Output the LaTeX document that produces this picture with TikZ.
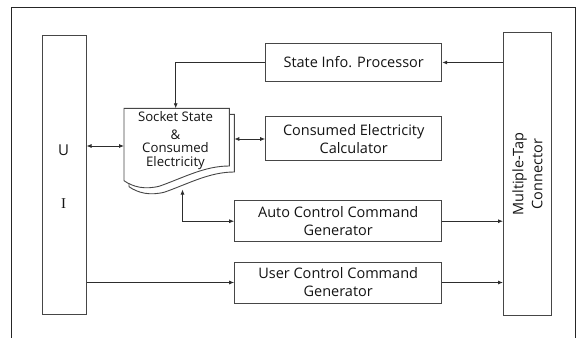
\documentclass[tikz,border=0pt]{standalone}
\usepackage{fontspec}
\setmainfont{Open Sans}
\newfontfamily\uiserif{Liberation Serif}
\definecolor{lnegray}{RGB}{45,45,45}
\definecolor{boxgray}{RGB}{70,70,70}
\definecolor{txtgray}{RGB}{20,20,20}
\usetikzlibrary{arrows.meta,positioning,calc}
\tikzset{
  blk/.style={rectangle,draw=boxgray,line width=1pt,fill=white,
              text=txtgray,align=center,inner sep=0pt,
              font=\fontsize{14.5}{18}\selectfont,
              minimum width=#1},
  blk/.default=176pt,
  bar/.style={rectangle,draw=boxgray,line width=1pt,
              text=txtgray,inner sep=0pt},
  arr/.style={-{Latex[length=5pt,width=4pt]},line width=0.8pt,lnegray},
  darr/.style={{Latex[length=5pt,width=4pt]}-{Latex[length=5pt,width=4pt]},
               line width=0.8pt,lnegray},
  page/.style={draw=boxgray,line width=0.9pt,fill=white},
}

\begin{document}
\begin{tikzpicture}[x=1pt,y=-1pt]
    \useasboundingbox (0,0) rectangle (577,337);
    % outer frame
    \draw[line width=1pt,black!85] (11,340)--(11,7.5)--(575,7.5)--(575,340);
    % side bars
    \node[bar,minimum width=44pt,minimum height=279pt] (ui) at (64,175.4) {};
    \node[text=txtgray,font=\fontsize{15}{15}\selectfont] at (63.5,150.5) {U};
    \node[text=txtgray,font=\uiserif\fontsize{15}{15}\selectfont] at (63.5,204) {I};
    \node[bar,minimum width=48pt,minimum height=282pt] (mtc) at (527.5,174) {};
    \node[rotate=90,text=txtgray,align=center,
          font=\fontsize{14.5}{19}\selectfont] at (mtc.center) {Multiple-Tap\\Connector};
    % blocks
    \node[blk,minimum height=37pt] (sip) at (353.7,62.5) {State Info. Processor};
    \node[blk,minimum height=44pt] (cec) at (353.7,138.8)
          {Consumed Electricity\\Calculator};
    \node[blk=207pt,minimum height=41pt] (acg) at (338.2,221.2)
          {Auto Control Command\\Generator};
    \node[blk=207pt,minimum height=41pt] (ucg) at (338.2,282.5)
          {User Control Command\\Generator};
    % document shape (two sheets)
    \draw[page] (229.3,114.3)--(234.3,114.3)--(234.3,172)
          .. controls (210,172) and (190,183) .. (165,192)
          .. controls (150,196) and (138,193) .. (129,186.7)--(129,181);
    \draw[page] (124,108.3)--(229.3,108.3)--(229.3,166)
          .. controls (205,166) and (185,177) .. (160,186)
          .. controls (145,190) and (133,187) .. (124,180.7)--cycle;
    \coordinate (doctop) at (175.7,108.3);
    \coordinate (docleft) at (124,146);
    \coordinate (docright) at (234.3,139);
    \coordinate (docbot) at (182.5,189.5);
    \node[text=txtgray,align=center,
          font=\fontsize{13.2}{13.8}\selectfont] (doc) at (175.5,140.5)
          {Socket State\\[4pt]\&\\Consumed\\Electricity};
    % connectors
    \draw[arr] (mtc.west|-sip.east) -- (sip.east);
    \draw[arr] (sip.west) -| (doctop);
    \draw[darr] (ui.east|-docleft) -- (docleft);
    \draw[darr] (docright) -- (cec.west|-docright);
    \draw[darr] (docbot) |- (acg.west);
    \draw[arr] (acg.east) -- (mtc.west|-acg.east);
    \draw[arr] (ui.east|-ucg.west) -- (ucg.west);
    \draw[arr] (ucg.east) -- (mtc.west|-ucg.east);
\end{tikzpicture}
\end{document}
